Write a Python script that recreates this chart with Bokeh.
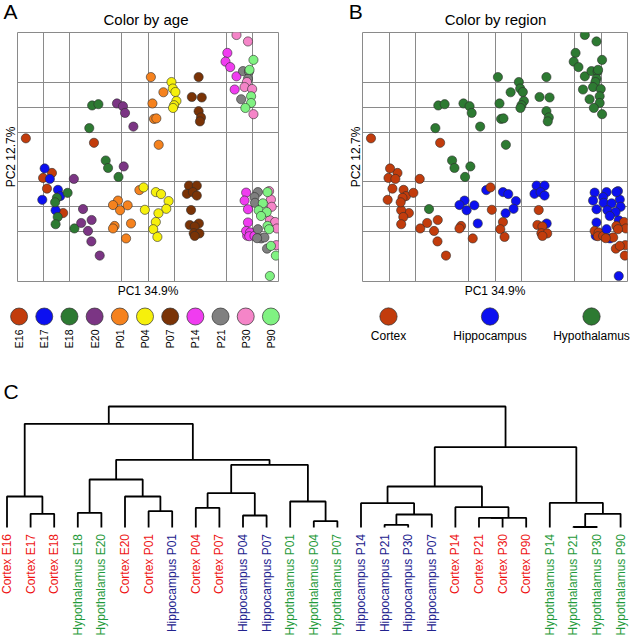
import math
from bokeh.plotting import figure
from bokeh.models import Range1d, FactorRange, FixedTicker, Label, ColumnDataSource
from bokeh.layouts import column, row
from bokeh.embed import file_html
from bokeh.resources import INLINE
from bokeh.core.properties import value

# ---------------- data ----------------
ages = ["E16", "E17", "E18", "E20", "P01", "P04", "P07", "P14", "P21", "P30", "P90"]
age_colors = ["#c23c0c", "#0c10f0", "#2d7a32", "#7b3584", "#f5821e", "#f6f00c",
              "#7a3306", "#f03cf0", "#808080", "#f585c8", "#80f282"]
regions = ["Cortex", "Hippocampus", "Hypothalamus"]
region_colors = ["#c23c0c", "#0c10f0", "#2d7a32"]

# PCA scores (PC1, PC2), grid units 0-100
pc1 = [3.2, 29.3, 13.2, 9.8, 11.3, 17.5,          # Cortex E16
       10.4, 12.4, 15.5, 16.4, 9.5, 14.6,         # Cortex E17
       28.6, 31.0, 27.5, 33.8, 34.7, 38.7,        # Hypothalamus E18
       19.2, 15.1, 14.4, 15.4, 14.6, 21.8,        # Cortex E18
       38.1, 40.4, 41.2, 44.4, 40.7, 25.1,        # Hypothalamus E20
       21.6, 28.4, 24.4, 27.0, 28.3, 31.5,        # Cortex E20
       51.1, 55.9, 51.7, 52.3, 53.2, 54.1,        # Hypothalamus P01
       46.7, 38.5, 36.6, 39.3, 42.2, 43.5,        # Hippocampus P01
       37.2, 36.6, 41.6,                          # Cortex P01
       59.0, 59.5, 60.5, 60.9, 60.0, 59.6,        # Hypothalamus P04
       53.0, 55.0, 57.9, 57.0, 54.0,              # Hippocampus P04
       48.3, 48.8, 53.0, 52.0, 53.6,              # Cortex P04
       69.4, 66.8, 70.6, 69.4, 70.3, 69.9,        # Hypothalamus P07
       65.7, 68.7, 64.9, 67.2, 68.7, 69.5,        # Hippocampus P07
       66.5, 66.0, 67.9, 67.5, 69.7, 67.9,        # Cortex P07
       80.4, 79.7, 81.5, 83.9, 83.2,              # Hypothalamus P14
       86.4, 88.7, 88.3, 85.7,                    # Hypothalamus P21
       83.9, 88.3, 87.9, 87.0, 89.9, 90.4,        # Hypothalamus P30
       90.4, 88.9, 89.5, 89.5, 87.3,              # Hypothalamus P90
       87.6, 87.0, 88.3, 88.3, 88.0,              # Hippocampus P14
       87.6, 89.1, 88.8, 90.8,                    # Cortex P14
       92.1, 90.8, 91.0, 92.1, 93.4,              # Hippocampus P21
       94.6, 95.6, 91.8,                          # Cortex P21
       96.4, 97.1, 97.4, 96.7,                    # Hippocampus P30
       98.7, 99.4, 99.2,                          # Cortex P30
       95.8, 94.0, 92.4, 95.5, 93.3, 96.7,        # Hippocampus P90
       95.8, 96.4, 97.1, 99.0]                    # Cortex P90
pc2 = [57.5, 55.7, 43.6, 41.6, 37.3, 27.5,
       45.4, 41.2, 36.8, 34.3, 32.8, 28.6,
       70.7, 71.2, 61.6, 48.6, 45.6, 42.0,
       35.6, 33.6, 31.8, 25.9, 23.0, 21.3,
       71.5, 70.4, 67.7, 62.2, 46.2, 29.1,
       41.2, 24.7, 23.5, 20.3, 16.1, 10.4,
       82.1, 76.0, 71.5, 65.3, 65.5, 54.9,
       36.7, 32.5, 30.7, 28.6, 30.6, 23.3,
       22.3, 21.3, 17.3,
       80.1, 77.5, 76.1, 72.5, 70.8, 69.7,
       35.9, 35.1, 32.3, 29.2, 27.4,
       37.8, 28.8, 23.9, 21.0, 17.9,
       82.1, 74.1, 73.9, 68.4, 65.9, 64.3,
       38.5, 38.5, 35.2, 35.9, 34.5, 23.3,
       28.7, 22.7, 22.1, 19.4, 19.3, 18.3,
       91.8, 88.3, 86.1, 82.4, 77.1,
       84.5, 84.3, 81.4, 73.2,
       99.0, 96.4, 80.1, 78.1, 77.3, 67.2,
       89.0, 85.0, 74.4, 71.7, 69.7,
       35.7, 32.5, 29.0, 23.7, 18.4,
       20.3, 19.7, 18.2, 18.3,
       35.9, 33.9, 31.6, 21.0, 17.3,
       17.7, 13.2, 17.4,
       36.3, 32.9, 30.0, 24.6,
       23.9, 21.3, 14.6,
       35.9, 31.4, 28.6, 27.9, 26.3, 2.2,
       22.3, 21.0, 14.3, 10.4]
sample_age = (["E16"] * 6 + ["E17"] * 6 + ["E18"] * 12 + ["E20"] * 12 +
              ["P01"] * 15 + ["P04"] * 16 + ["P07"] * 18 +
              ["P14"] * 5 + ["P21"] * 4 + ["P30"] * 6 + ["P90"] * 5 +
              ["P14"] * 9 + ["P21"] * 8 + ["P30"] * 7 + ["P90"] * 10)
sample_region = (["Cortex"] * 12 + ["Hypothalamus"] * 6 + ["Cortex"] * 6 +
                 ["Hypothalamus"] * 6 + ["Cortex"] * 6 +
                 ["Hypothalamus"] * 6 + ["Hippocampus"] * 6 + ["Cortex"] * 3 +
                 ["Hypothalamus"] * 6 + ["Hippocampus"] * 5 + ["Cortex"] * 5 +
                 ["Hypothalamus"] * 6 + ["Hippocampus"] * 6 + ["Cortex"] * 6 +
                 ["Hypothalamus"] * 20 +
                 ["Hippocampus"] * 5 + ["Cortex"] * 4 + ["Hippocampus"] * 5 + ["Cortex"] * 3 +
                 ["Hippocampus"] * 4 + ["Cortex"] * 3 + ["Hippocampus"] * 6 + ["Cortex"] * 4)

grid_pc1 = [10, 20, 40, 50, 60, 80, 90]
grid_pc2 = [20, 30, 40, 60, 70, 80]

# dendrogram
leaf_labels = ["Cortex E16", "Cortex E17", "Cortex E18", "Hypothalamus E18", "Hypothalamus E20",
               "Cortex E20", "Cortex P01", "Hippocampus P01", "Cortex P04", "Cortex P07",
               "Hippocampus P04", "Hippocampus P07", "Hypothalamus P01", "Hypothalamus P04",
               "Hypothalamus P07", "Hippocampus P14", "Hippocampus P21", "Hippocampus P30",
               "Hippocampus P07", "Cortex P14", "Cortex P21", "Cortex P30", "Cortex P90",
               "Hypothalamus P14", "Hypothalamus P21", "Hypothalamus P30", "Hypothalamus P90"]
# merges: (child a, child b, height); leaves 0..26, merged node k gets id 27+k
merge_a = [1, 0, 3, 6, 5, 29, 8, 10, 33, 13, 12, 35, 32, 28, 16, 41, 15, 20, 44, 19, 43, 24, 48, 23, 47, 40]
merge_b = [2, 27, 4, 7, 30, 31, 9, 11, 34, 14, 36, 37, 38, 39, 17, 18, 42, 21, 22, 45, 46, 25, 26, 49, 50, 51]
merge_h = [0.137, 0.31, 0.147, 0.163, 0.31, 0.48, 0.197, 0.12, 0.343, 0.063, 0.26, 0.627, 0.677,
           1.037, 0.027, 0.13, 0.243, 0.097, 0.097, 0.203, 0.41, 0.005, 0.137, 0.247, 0.803, 1.21]

label_colors = {"Cortex": "#ee1414", "Hippocampus": "#22228e", "Hypothalamus": "#1f9a3a"}

FONT = "Liberation Sans"
LABEL_SHIFT = 6  # Label anchors render ~6px low; compensate


def bare(fig):
    fig.grid.visible = False
    fig.outline_line_color = None
    return fig


def header(letter, title, frame_center, letter_x):
    h = bare(figure(width=315, height=31, x_range=Range1d(0, 315), y_range=Range1d(0, 31),
                    x_axis_type=None, y_axis_type=None, output_backend="svg", toolbar_location=None,
                    min_border_left=0, min_border_right=0, min_border_top=0, min_border_bottom=0))
    h.add_layout(Label(x=letter_x, y=14.5 + LABEL_SHIFT, x_units="screen", y_units="screen", text=letter,
                       text_font=FONT, text_font_size="21px", text_baseline="alphabetic",
                       text_color="black"))
    h.add_layout(Label(x=frame_center, y=6.3 + LABEL_SHIFT, x_units="screen", y_units="screen", text=title,
                       text_font=FONT, text_font_size="15px", text_baseline="alphabetic",
                       text_align="center", text_color="black"))
    return h


def pca_panel(colors, bl, br):
    p = figure(width=315, height=269, x_range=Range1d(0, 100), y_range=Range1d(0, 100),
               output_backend="svg", toolbar_location=None,
               min_border_left=bl, min_border_right=br, min_border_top=1, min_border_bottom=17)
    p.xaxis.axis_label = "PC1 34.9%"
    p.yaxis.axis_label = "PC2 12.7%"
    for ax, stand in ((p.xaxis[0], 2), (p.yaxis[0], 0)):
        ax.ticker = FixedTicker(ticks=[])
        ax.axis_line_color = None
        ax.major_tick_line_color = None
        ax.minor_tick_line_color = None
        ax.major_tick_out = 0
        ax.major_tick_in = 0
        ax.minor_tick_out = 0
        ax.minor_tick_in = 0
        ax.major_label_standoff = 0
        ax.major_label_text_font_size = "0px"
        ax.axis_label_standoff = stand
        ax.axis_label_text_font = FONT
        ax.axis_label_text_font_size = "12px"
        ax.axis_label_text_font_style = "normal"
        ax.axis_label_text_color = "black"
    p.xgrid.ticker = FixedTicker(ticks=grid_pc1)
    p.ygrid.ticker = FixedTicker(ticks=grid_pc2)
    p.grid.grid_line_color = "#8a8a8a"
    p.grid.grid_line_width = 1
    p.outline_line_color = "#8a8a8a"
    src = ColumnDataSource(dict(x=pc1, y=pc2, c=colors))
    p.scatter("x", "y", source=src, size=9.2, fill_color="c",
              line_color="#2e2e2e", line_width=0.6)
    return p


age_color_map = dict(zip(ages, age_colors))
region_color_map = dict(zip(regions, region_colors))

hA = header("A", "Color by age", 145.5, 3)
hB = header("B", "Color by region", 180, 33.3)
pA = pca_panel([age_color_map[a] for a in sample_age], 13, 37)
pB = pca_panel([region_color_map[r] for r in sample_region], 47, 3)

# legend A
la = figure(width=315, height=60, x_range=FactorRange(*ages), y_range=Range1d(-1, 1),
            y_axis_type=None, output_backend="svg", toolbar_location=None,
            min_border_left=6, min_border_right=32, min_border_top=4, min_border_bottom=33)
la.scatter(x=ages, y=[0] * len(ages), size=17, fill_color=age_colors,
           line_color="#2e2e2e", line_width=0.7)

# legend B
lb = figure(width=315, height=60, x_range=FactorRange(*regions, factor_padding=1.54),
            y_range=Range1d(-1, 1), y_axis_type=None, output_backend="svg", toolbar_location=None,
            min_border_left=53, min_border_right=19, min_border_top=5, min_border_bottom=32)
lb.scatter(x=regions, y=[0] * len(regions), size=17.3, fill_color=region_colors,
           line_color="#2e2e2e", line_width=0.7)

for lg, orient, fsz, stand in ((la, math.pi / 2, "10.5px", 2), (lb, "horizontal", "12px", 1)):
    bare(lg)
    ax = lg.xaxis[0]
    ax.axis_line_color = None
    ax.major_tick_line_color = None
    ax.minor_tick_line_color = None
    ax.major_tick_out = 0
    ax.major_tick_in = 0
    ax.major_label_orientation = orient
    ax.major_label_standoff = stand
    ax.major_label_text_font = FONT
    ax.major_label_text_font_size = fsz
    ax.major_label_text_color = "black"

# dendrogram
n_leaves = len(leaf_labels)
node_x = [float(i) for i in range(n_leaves)]
node_h = [0.0] * n_leaves
xs, ys = [], []
for a, b, h in zip(merge_a, merge_b, merge_h):
    xs.append([node_x[a], node_x[a], node_x[b], node_x[b]])
    ys.append([node_h[a], h, h, node_h[b]])
    node_x.append((node_x[a] + node_x[b]) / 2)
    node_h.append(h)

pd = bare(figure(width=630, height=279, x_range=Range1d(-0.2754, 26.42), y_range=Range1d(-1.12, 1.67),
                 x_axis_type=None, y_axis_type=None, output_backend="svg", toolbar_location=None,
                 min_border_left=0, min_border_right=0, min_border_top=0, min_border_bottom=0))
pd.multi_line(xs, ys, line_color="black", line_width=1.8)
leaf_cols = [label_colors[l.split(" ")[0]] for l in leaf_labels]
pd.text(x=list(range(n_leaves)), y=[0.0] * n_leaves, text=leaf_labels, angle=math.pi / 2,
        text_align="right", text_baseline="middle", y_offset=6.5,
        text_font=value(FONT), text_font_size=value("12px"), text_color=leaf_cols)
pd.add_layout(Label(x=3, y=279 - 37 + LABEL_SHIFT, x_units="screen", y_units="screen", text="C",
                    text_font=FONT, text_font_size="21px", text_baseline="alphabetic",
                    text_color="black"))

layout = column(row(hA, hB), row(pA, pB), row(la, lb), pd)
open("out.html", "w").write(file_html(layout, INLINE))
